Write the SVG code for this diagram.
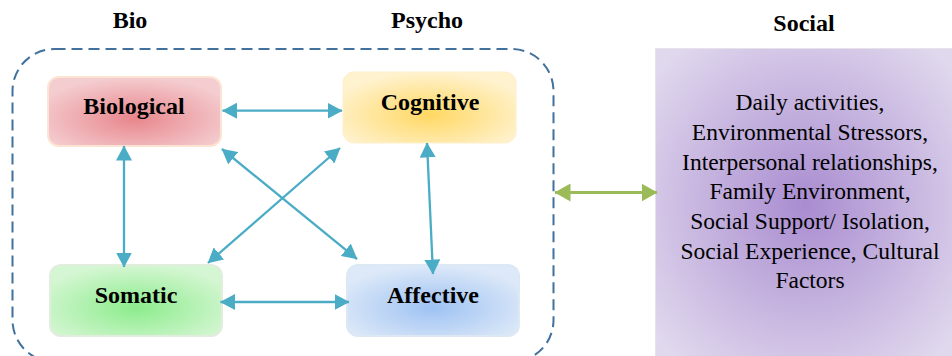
<svg xmlns="http://www.w3.org/2000/svg" width="952" height="356" viewBox="0 0 952 356">
<style>
.title{font-family:"Liberation Serif","Times New Roman",serif;font-weight:bold;font-size:24px;fill:#000;text-anchor:middle}
.lbl{font-family:"Liberation Serif","Times New Roman",serif;font-weight:bold;font-size:24px;fill:#000;text-anchor:middle}
.soc{font-family:"Liberation Serif","Times New Roman",serif;font-size:23.5px;fill:#000;text-anchor:middle}
.conn{stroke:#4bacc6;stroke-width:2.3;fill:none;marker-start:url(#ah);marker-end:url(#ah)}
.green{stroke:#9bbb59;stroke-width:3;fill:none;marker-start:url(#gh);marker-end:url(#gh)}
</style>
<defs>
<marker id="ah" markerUnits="userSpaceOnUse" markerWidth="16" markerHeight="16" refX="14.5" refY="8" orient="auto-start-reverse" viewBox="0 0 16 16">
<path d="M0,0 L15,8 L0,16 z" fill="#4bacc6"/>
</marker>
<marker id="gh" markerUnits="userSpaceOnUse" markerWidth="17" markerHeight="18" refX="15.5" refY="9" orient="auto-start-reverse" viewBox="0 0 17 18">
<path d="M0,0 L16,9 L0,18 z" fill="#9bbb59"/>
</marker>
<radialGradient id="gRed" cx="0.5" cy="0.6" r="0.6"><stop offset="0" stop-color="#e8868c"/><stop offset="1" stop-color="#f4cdd0"/></radialGradient>
<radialGradient id="gYel" cx="0.5" cy="0.6" r="0.6"><stop offset="0" stop-color="#ffd862"/><stop offset="1" stop-color="#fff2cf"/></radialGradient>
<radialGradient id="gGrn" cx="0.5" cy="0.6" r="0.6"><stop offset="0" stop-color="#8cec8c"/><stop offset="1" stop-color="#d4f6d2"/></radialGradient>
<radialGradient id="gBlu" cx="0.5" cy="0.6" r="0.6"><stop offset="0" stop-color="#9ec2f3"/><stop offset="1" stop-color="#dde9f8"/></radialGradient>
<radialGradient id="gPur" cx="0.5" cy="0.5" r="0.65"><stop offset="0" stop-color="#a98cd0"/><stop offset="1" stop-color="#e0d8ed"/></radialGradient>
</defs>

<text class="title" x="130" y="28">Bio</text>
<text class="title" x="427" y="28">Psycho</text>
<text class="title" x="804" y="31">Social</text>

<g id="psychobio-group">
<rect x="12.5" y="49" width="541" height="313" rx="42" ry="42" fill="none" stroke="#41719c" stroke-width="2" stroke-dasharray="11 6"/>
</g>

<g id="biological">
<rect x="48" y="77" width="173" height="69" rx="11" fill="url(#gRed)" stroke="#fde3d2" stroke-width="2"/>
<text class="lbl" x="134" y="114">Biological</text>
</g>
<g id="cognitive">
<rect x="343" y="72" width="173" height="71" rx="11" fill="url(#gYel)" stroke="#fff0cc" stroke-width="1"/>
<text class="lbl" x="430" y="110">Cognitive</text>
</g>
<g id="somatic">
<rect x="50" y="265" width="172" height="71" rx="11" fill="url(#gGrn)" stroke="#e2eedd" stroke-width="2"/>
<text class="lbl" x="136" y="303">Somatic</text>
</g>
<g id="affective">
<rect x="347" y="265" width="172" height="71" rx="11" fill="url(#gBlu)" stroke="#dde8f5" stroke-width="2"/>
<text class="lbl" x="433" y="303">Affective</text>
</g>

<g id="social">
<rect x="655.5" y="48.5" width="300" height="312" fill="url(#gPur)" stroke="#e6e2ec" stroke-width="1"/>
<text class="soc" x="810" y="110">Daily activities,</text>
<text class="soc" x="810" y="140">Environmental Stressors,</text>
<text class="soc" x="810" y="170">Interpersonal relationships,</text>
<text class="soc" x="810" y="199">Family Environment,</text>
<text class="soc" x="810" y="229">Social Support/ Isolation,</text>
<text class="soc" x="810" y="259">Social Experience, Cultural</text>
<text class="soc" x="810" y="288">Factors</text>
</g>

<g id="connectors">
<line class="conn" x1="222.5" y1="110.7" x2="342" y2="110.7"/>
<line class="conn" x1="220.5" y1="302" x2="349" y2="302"/>
<line class="conn" x1="124" y1="146" x2="124" y2="267"/>
<line class="conn" x1="427" y1="143" x2="433" y2="274"/>
<line class="conn" x1="222" y1="149" x2="357" y2="259"/>
<line class="conn" x1="340" y1="148" x2="208" y2="263"/>
<line class="green" x1="555" y1="192.5" x2="657" y2="192.5"/>
</g>
</svg>
